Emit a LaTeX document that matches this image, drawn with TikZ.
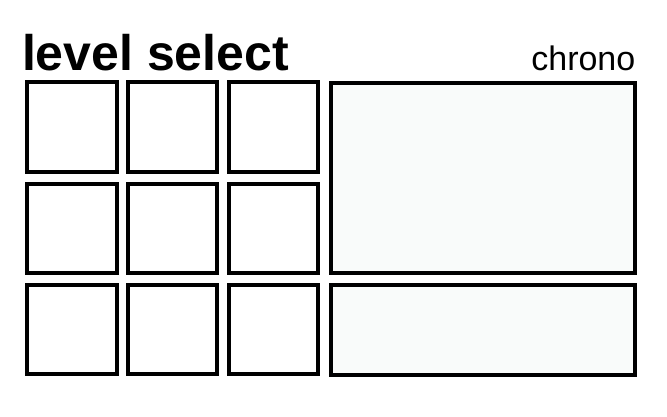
\documentclass[tikz,border=0pt]{standalone}
\usepackage{fontspec}
\setmainfont{Liberation Sans}
\usepackage{tikz}
\definecolor{panelgray}{RGB}{249,251,250}

\begin{document}
\begin{tikzpicture}[x=1pt,y=-1pt,
  tile/.style={draw,line width=4pt,fill=white,inner sep=0pt,minimum width=89.5pt,minimum height=89.7pt},
  panel/.style={draw,line width=4pt,fill=panelgray,inner sep=0pt,minimum width=303.2pt}]
\useasboundingbox (0,0) rectangle (667,417);
% heading
\node (title) at (21.8,71) [anchor=base west,inner sep=0pt,font=\bfseries\fontsize{50}{50}\selectfont]{level select};
\node (chrono) at (635.5,70.7) [anchor=base east,inner sep=0pt,font=\fontsize{34}{34}\selectfont]{chrono};
% level tiles
\node (t11) at (72,127.2) [tile]{};
\node (t12) at (172.7,127.2) [tile]{};
\node (t13) at (273.3,127.2) [tile]{};
\node (t21) at (72,228.5) [tile]{};
\node (t22) at (172.7,228.5) [tile]{};
\node (t23) at (273.3,228.5) [tile]{};
\node (t31) at (72,329.6) [tile]{};
\node (t32) at (172.7,329.6) [tile]{};
\node (t33) at (273.3,329.6) [tile]{};
% side panels
\node (preview) at (482.9,178.2) [panel,minimum height=190.3pt]{};
\node (info) at (482.9,329.7) [panel,minimum height=90pt]{};
\end{tikzpicture}
\end{document}
